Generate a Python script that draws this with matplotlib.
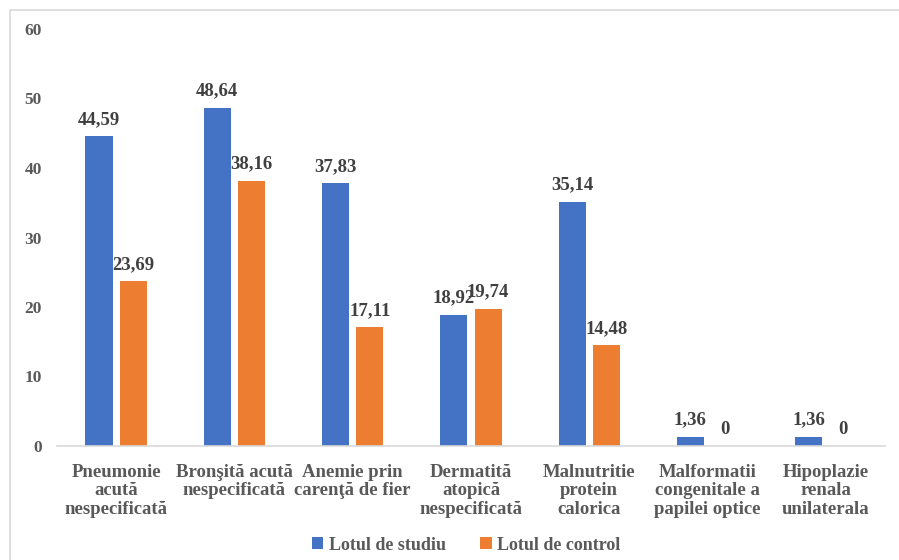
import matplotlib
matplotlib.use("Agg")
import matplotlib.pyplot as plt
import numpy as np
from matplotlib.patches import Rectangle

categories = [
    "Pneumonie\nacută\nnespecificată",
    "Bronşită acută\nnespecificată",
    "Anemie prin\ncarenţă de fier",
    "Dermatită\natopică\nnespecificată",
    "Malnutritie\nprotein\ncalorica",
    "Malformatii\ncongenitale a\npapilei optice",
    "Hipoplazie\nrenala\nunilaterala",
]
studiu = [44.59, 48.64, 37.83, 18.92, 35.14, 1.36, 1.36]
control = [23.69, 38.16, 17.11, 19.74, 14.48, 0, 0]
series_names = ["Lotul de studiu", "Lotul de control"]
yticks = [0, 10, 20, 30, 40, 50, 60]

BLUE = "#4472C4"
ORANGE = "#ED7D31"
GREY = "#595959"
DARK = "#404040"

plt.rcParams["font.family"] = ["Liberation Serif", "DejaVu Serif"]

fig = plt.figure(figsize=(8.99, 5.6), dpi=100)
fig.patches.append(Rectangle((10 / 899, -0.1), 1.2, 1 - 10 / 560 + 0.1,
                             transform=fig.transFigure, fill=False,
                             edgecolor="#D9D9D9", linewidth=1.2))
ax = fig.add_axes([57 / 899, 1 - 446 / 560, (885 - 57) / 899, (446 - 29) / 560])

x = np.arange(len(categories))
w = 0.23
gap = 0.03
b1 = ax.bar(x - w / 2 - gap, studiu, w, color=BLUE, label=series_names[0])
b2 = ax.bar(x + w / 2 + gap, control, w, color=ORANGE, label=series_names[1])

def fmt(v):
    return f"{v:.2f}".replace(".", ",") if v != 0 else "0"

for bars, vals in ((b1, studiu), (b2, control)):
    for r, v in zip(bars, vals):
        ax.annotate(fmt(v), (r.get_x() + r.get_width() / 2, v),
                    xytext=(0, 6), textcoords="offset points",
                    ha="center", va="bottom", fontsize=13.5,
                    fontweight="bold", color=DARK)

ax.set_xlim(-0.5, len(categories) - 0.5)
ax.set_ylim(0, 60)
ax.set_yticks(yticks)
ax.set_yticklabels([str(t) for t in yticks], fontsize=12.5,
                   fontweight="bold", color=GREY)
ax.set_xticks(x)
ax.set_xticklabels(categories, fontsize=13.5, fontweight="bold",
                   color=GREY, linespacing=1.1, va="top")
ax.tick_params(axis="both", length=0)
ax.tick_params(axis="x", pad=13)
ax.tick_params(axis="y", pad=11)
for s in ("top", "right", "left"):
    ax.spines[s].set_visible(False)
ax.spines["bottom"].set_color("#D9D9D9")
ax.spines["bottom"].set_linewidth(1.2)

fig.legend(handles=[b1, b2], labels=series_names, loc="center",
           bbox_to_anchor=(466 / 899, 1 - 545 / 560), ncol=2, frameon=False,
           prop={"size": 13, "weight": "bold"}, labelcolor=GREY,
           handlelength=0.65, handleheight=0.65, handletextpad=0.3,
           columnspacing=1.9)

fig.savefig("out.png", dpi=100)
